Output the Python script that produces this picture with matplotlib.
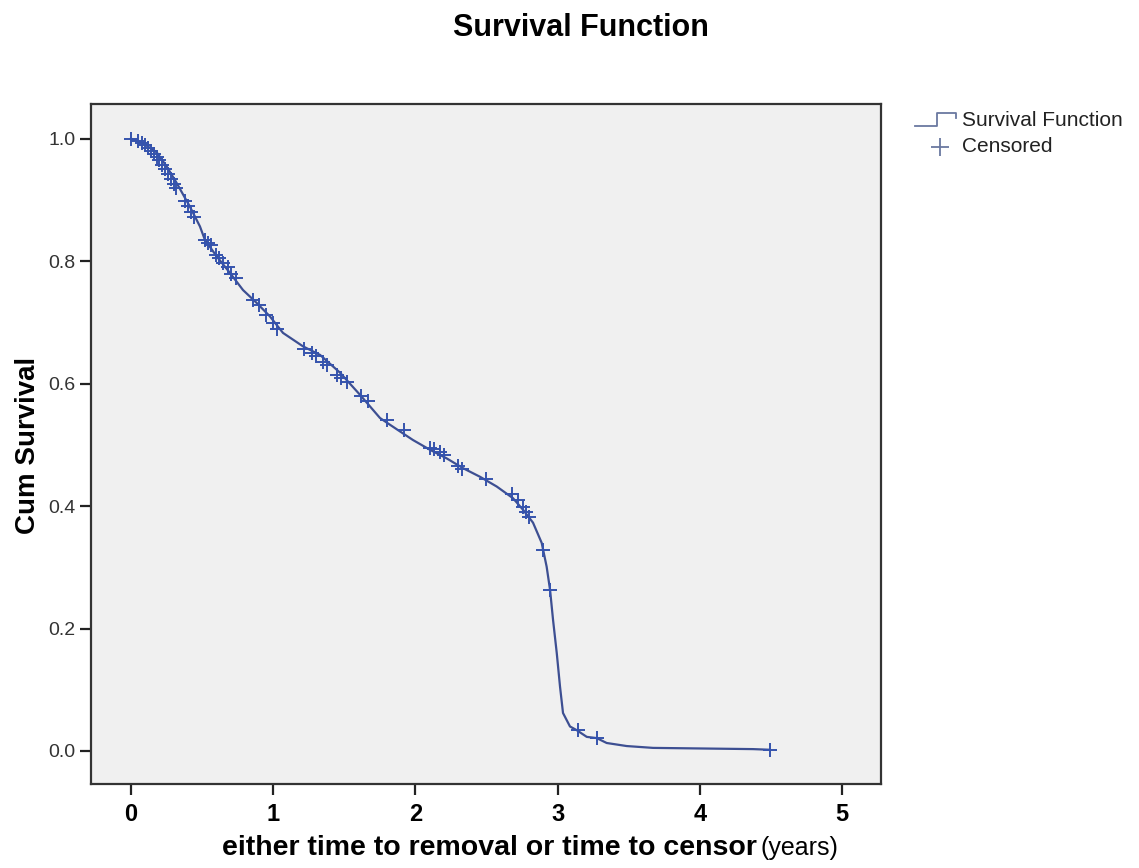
import matplotlib
matplotlib.use("Agg")
import matplotlib.pyplot as plt
from matplotlib.lines import Line2D

# ---- data ----
curve_t = [0.0, 0.005, 0.084, 0.181, 0.251, 0.321, 0.415, 0.485, 0.520, 0.603, 0.696,
           0.788, 0.884, 0.977, 1.069, 1.210, 1.33, 1.47, 1.61, 1.751, 1.821, 1.892,
           1.983, 2.103, 2.220, 2.335, 2.454, 2.572, 2.686, 2.757, 2.827, 2.888, 2.923,
           2.947, 2.968, 2.994, 3.017, 3.038, 3.087, 3.134, 3.205, 3.275, 3.345, 3.486,
           3.671, 4.374, 4.487]
curve_s = [1.0, 1.0, 0.993, 0.978, 0.955, 0.928, 0.889, 0.857, 0.835, 0.808, 0.781,
           0.753, 0.732, 0.710, 0.683, 0.661, 0.647, 0.618, 0.582, 0.544, 0.533, 0.522,
           0.508, 0.492, 0.478, 0.462, 0.448, 0.432, 0.413, 0.394, 0.373, 0.340, 0.301,
           0.263, 0.214, 0.160, 0.105, 0.062, 0.040, 0.034, 0.023, 0.021, 0.013, 0.008,
           0.005, 0.003, 0.002]

cens_t = [0.0, 0.05, 0.08, 0.10, 0.12, 0.14, 0.16, 0.18, 0.20, 0.22, 0.24, 0.26, 0.28,
          0.30, 0.32, 0.38, 0.40, 0.42, 0.44, 0.52, 0.54, 0.56, 0.60, 0.62, 0.65, 0.68,
          0.70, 0.74, 0.86, 0.90, 0.95, 1.00, 1.03, 1.22, 1.27, 1.30, 1.35, 1.38, 1.45,
          1.48, 1.52, 1.62, 1.67, 1.80, 1.92, 2.10, 2.13, 2.17, 2.20, 2.30, 2.33, 2.50,
          2.68, 2.72, 2.76, 2.78, 2.80, 2.90, 2.95, 3.14, 3.28, 4.49]
cens_s = [1.0, 0.997, 0.993, 0.990, 0.985, 0.980, 0.975, 0.970, 0.965, 0.958, 0.950,
          0.943, 0.935, 0.927, 0.920, 0.898, 0.890, 0.880, 0.872, 0.835, 0.830, 0.826,
          0.810, 0.805, 0.797, 0.790, 0.780, 0.772, 0.737, 0.728, 0.713, 0.700, 0.690,
          0.657, 0.650, 0.645, 0.636, 0.630, 0.615, 0.610, 0.603, 0.580, 0.572, 0.540,
          0.525, 0.495, 0.493, 0.488, 0.483, 0.466, 0.460, 0.445, 0.420, 0.410, 0.398,
          0.390, 0.383, 0.328, 0.263, 0.034, 0.021, 0.002]

x_ticks = [0, 1, 2, 3, 4, 5]
y_ticks = [0.0, 0.2, 0.4, 0.6, 0.8, 1.0]
y_ticklabels = ["0.0", "0.2", "0.4", "0.6", "0.8", "1.0"]

title = "Survival Function"
xlabel_bold = "either time to removal or time to censor"
xlabel_unit = "(years)"
ylabel = "Cum Survival"
legend_labels = ["Survival Function", "Censored"]

line_color = "#3d4f92"
mark_color = "#3553ad"

W, H = 1139, 868
fig = plt.figure(figsize=(W / 100, H / 100), dpi=100)
fig.patch.set_facecolor("white")

ax = fig.add_axes([91 / W, 1 - 784 / H, (881 - 91) / W, (784 - 104) / H])
ax.set_facecolor("#f0f0f0")

ax.plot(curve_t, curve_s, color=line_color, lw=1.6, zorder=3)
ax.plot(cens_t, cens_s, linestyle="none", marker="+", markersize=10,
        markeredgewidth=1.4, color=mark_color, zorder=4)

ax.set_xlim(-0.281, 5.274)
ax.set_ylim(-0.054, 1.057)

ax.set_xticks(x_ticks)
ax.set_xticklabels([str(v) for v in x_ticks],
                   fontdict=dict(family="Liberation Sans", weight="bold", size=17))
ax.set_yticks(y_ticks)
ax.set_yticklabels(y_ticklabels, fontdict=dict(family="Liberation Sans", size=14))

ax.tick_params(axis="x", direction="out", length=8, width=1.6, colors="#222222",
               pad=6, top=False)
ax.tick_params(axis="y", direction="out", length=8, width=1.6, colors="#222222",
               pad=3, right=False)
for lab in ax.get_xticklabels():
    lab.set_color("black")
for lab in ax.get_yticklabels():
    lab.set_color("#333333")

for sp in ax.spines.values():
    sp.set_color("#333333")
    sp.set_linewidth(1.6)

# title and axis labels
fig.text(581 / W, 1 - 28 / H, title, ha="center", va="center",
         family="Liberation Sans", weight="bold", size=22)
fig.text(28 / W, 1 - 445 / H, ylabel, ha="center", va="center", rotation=90,
         family="Liberation Sans", weight="bold", size=20)
fig.text(757 / W, 1 - 855 / H, xlabel_bold, ha="right", va="baseline",
         family="Liberation Sans", weight="bold", size=20.5)
fig.text(761 / W, 1 - 855 / H, xlabel_unit, ha="left", va="baseline",
         family="Liberation Sans", size=18)

# legend (drawn outside at right)
lx = [915 / W, 937 / W, 937 / W, 956 / W, 956 / W]
ly = [1 - 126 / H, 1 - 126 / H, 1 - 113 / H, 1 - 113 / H, 1 - 118 / H]
fig.add_artist(Line2D(lx, ly, color="#6a78a0", lw=1.3, transform=fig.transFigure))
fig.add_artist(Line2D([940 / W], [1 - 147 / H], marker="+", markersize=13,
                      markeredgewidth=1.3, color="#6a78a0", linestyle="none",
                      transform=fig.transFigure))
fig.text(962 / W, 1 - 120 / H, legend_labels[0], ha="left", va="center",
         family="Liberation Sans", size=15, color="#222222")
fig.text(962 / W, 1 - 147 / H, legend_labels[1], ha="left", va="center",
         family="Liberation Sans", size=15, color="#222222")

fig.savefig("out.png", dpi=100, facecolor="white")
